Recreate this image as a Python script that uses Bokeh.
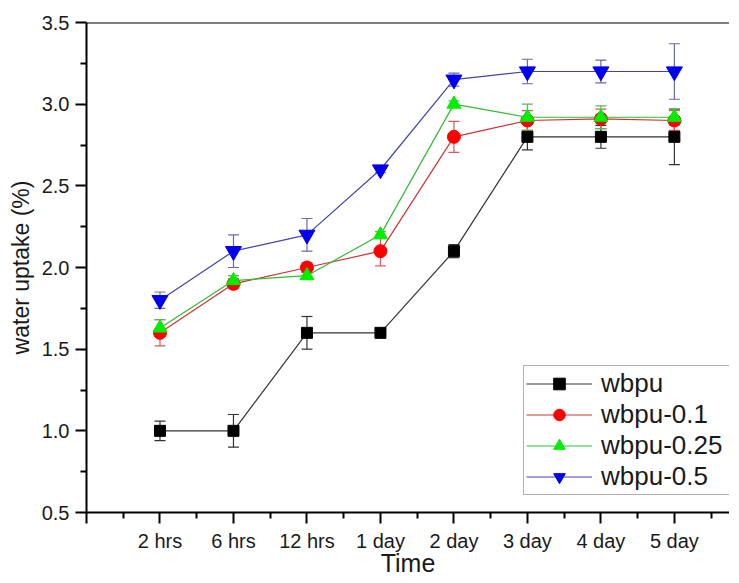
from bokeh.plotting import figure
from bokeh.models import ColumnDataSource, Whisker, TeeHead, FixedTicker, Span, Range1d
from bokeh.embed import file_html
from bokeh.resources import INLINE

# ---- data ----
time_labels = ["2 hrs", "6 hrs", "12 hrs", "1 day", "2 day", "3 day", "4 day", "5 day"]
x_pos = [1, 2, 3, 4, 5, 6, 7, 8]
series_names = ["wbpu", "wbpu-0.1", "wbpu-0.25", "wbpu-0.5"]
wbpu = [1.00, 1.00, 1.60, 1.60, 2.10, 2.80, 2.80, 2.80]
wbpu_err = [0.06, 0.10, 0.10, 0.02, 0.04, 0.08, 0.07, 0.17]
wbpu_01 = [1.60, 1.90, 2.00, 2.10, 2.80, 2.90, 2.91, 2.90]
wbpu_01_err = [0.08, 0.03, 0.03, 0.09, 0.095, 0.06, 0.06, 0.06]
wbpu_025 = [1.63, 1.92, 1.95, 2.20, 3.00, 2.92, 2.92, 2.92]
wbpu_025_err = [0.05, 0.03, 0.02, 0.02, 0.02, 0.08, 0.07, 0.05]
wbpu_05 = [1.80, 2.10, 2.20, 2.60, 3.15, 3.20, 3.20, 3.20]
wbpu_05_err = [0.05, 0.10, 0.10, 0.02, 0.04, 0.075, 0.07, 0.17]

FONT = "Liberation Sans"

p = figure(frame_width=643, frame_height=490, output_backend="svg", toolbar_location=None,
           x_range=Range1d(0, 8.75), y_range=Range1d(0.5, 3.5),
           min_border_left=86, min_border_right=0, min_border_top=22, min_border_bottom=0)
p.outline_line_color = None
p.xgrid.visible = False
p.ygrid.visible = False
p.background_fill_color = "white"

styles = [
    dict(values=wbpu, err=wbpu_err, marker="square", size=11, color="#000000",
         line="#333333", wcol="#333333"),
    dict(values=wbpu_01, err=wbpu_01_err, marker="circle", size=13, color="#ff0000",
         line="#cc3333", wcol="#d65a5a"),
    dict(values=wbpu_025, err=wbpu_025_err, marker="triangle", size=14, color="#00ee00",
         line="#33bb33", wcol="#55bb55"),
    dict(values=wbpu_05, err=wbpu_05_err, marker="inverted_triangle", size=16, color="#0000ee",
         line="#4444aa", wcol="#6a6aa8"),
]

for name, st in zip(series_names, styles):
    src = ColumnDataSource(dict(
        x=x_pos, y=st["values"],
        upper=[v + e for v, e in zip(st["values"], st["err"])],
        lower=[v - e for v, e in zip(st["values"], st["err"])],
    ))
    w = Whisker(source=src, base="x", upper="upper", lower="lower",
                line_color=st["wcol"], line_width=1.2,
                upper_head=TeeHead(size=11, line_color=st["wcol"], line_width=1.2),
                lower_head=TeeHead(size=11, line_color=st["wcol"], line_width=1.2))
    p.add_layout(w)
    p.line("x", "y", source=src, line_color=st["line"], line_width=1.2, legend_label=name)
    p.scatter("x", "y", source=src, marker=st["marker"], size=st["size"],
              fill_color=st["color"], line_color=st["color"], legend_label=name)

# top frame line
p.add_layout(Span(location=3.5, dimension="width", line_color="#000000", line_width=2))

# x axis
xa = p.xaxis[0]
xa.ticker = FixedTicker(ticks=[0] + x_pos, minor_ticks=[i + 0.5 for i in range(9)])
xa.major_label_overrides = {0: ""}
xa.major_label_overrides.update({x: lab for x, lab in zip(x_pos, time_labels)})
xa.axis_label = "Time"

# y axis
ya = p.yaxis[0]
ya.ticker = FixedTicker(ticks=[0.5, 1.0, 1.5, 2.0, 2.5, 3.0, 3.5],
                        minor_ticks=[0.75, 1.25, 1.75, 2.25, 2.75, 3.25])
ya.major_label_overrides = {0.5: "0.5", 1.0: "1.0", 1.5: "1.5", 2.0: "2.0",
                            2.5: "2.5", 3.0: "3.0", 3.5: "3.5"}
ya.axis_label = "water uptake (%)"

for ax in (xa, ya):
    ax.axis_line_width = 2
    ax.axis_line_color = "#000000"
    ax.major_tick_line_width = 2
    ax.minor_tick_line_width = 2
    ax.major_tick_line_color = "#000000"
    ax.minor_tick_line_color = "#000000"
    ax.major_tick_in = 0
    ax.major_tick_out = 11
    ax.minor_tick_in = 0
    ax.minor_tick_out = 6
    ax.major_label_text_font = FONT
    ax.major_label_text_font_size = "20px"
    ax.major_label_text_color = "#1a1a1a"
    ax.axis_label_text_font = FONT
    ax.axis_label_text_font_style = "normal"
    ax.axis_label_text_color = "#1a1a1a"

xa.major_label_standoff = 6
xa.axis_label_standoff = -6
xa.axis_label_text_font_size = "25px"
ya.major_label_standoff = 6
ya.axis_label_standoff = 5
ya.axis_label_text_font_size = "23px"

lg = p.legend[0]
lg.location = (437, 17)
lg.label_text_font = FONT
lg.label_text_font_size = "26px"
lg.label_text_color = "#1a1a1a"
lg.border_line_color = "#666666"
lg.border_line_width = 1
lg.padding = 2
lg.spacing = 0
lg.margin = 0
lg.glyph_width = 66
lg.glyph_height = 29
lg.label_height = 29
lg.label_standoff = 9
lg.label_width = 142
lg.background_fill_alpha = 1.0

open("out.html", "w").write(file_html(p, INLINE))
